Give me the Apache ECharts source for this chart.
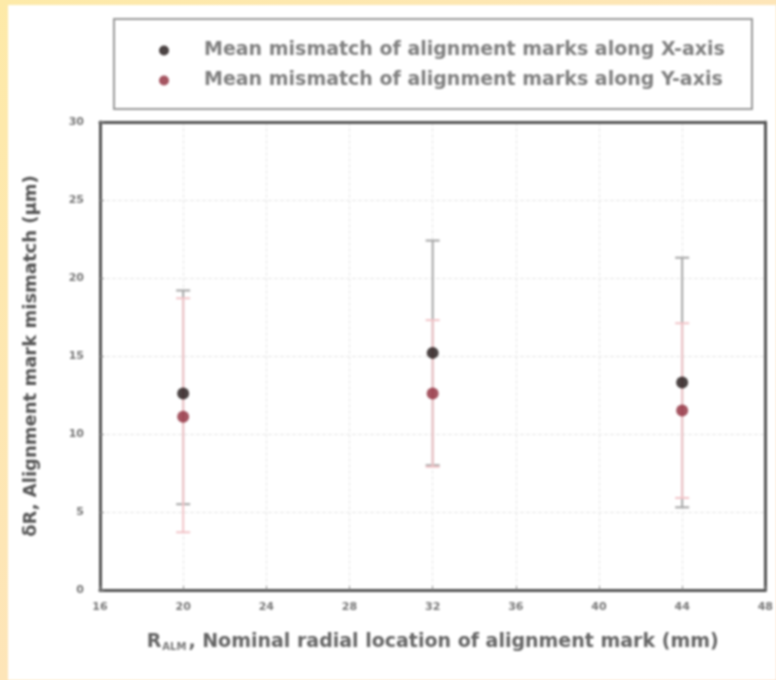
<!DOCTYPE html>
<html lang="en">
<head>
    <meta charset="UTF-8">
    <title>Alignment mark mismatch</title>
    <script src="https://cdn.jsdelivr.net/npm/echarts@6/dist/echarts.min.js"></script>
    <style>
        * { margin: 0; padding: 0; }
        html, body {
            width: 776px;
            height: 680px;
            overflow: hidden;
            background: linear-gradient(to bottom right, #fdeaa8, #fde0c8);
        }
        #box {
            position: absolute;
            left: 8px;
            top: 5px;
            width: 768px;
            height: 675px;
            background: #fff;
            filter: blur(1.2px);
        }
    </style>
</head>
<body>
    <div id="box"></div>
    <script>
        // radial location of the marks (mm)
        var radius = [20, 32, 44];
        // mismatch along X-axis (um)
        var xMean = [12.6, 15.2, 13.3];
        var xLow = [5.5, 8.0, 5.3];
        var xHigh = [19.2, 22.4, 21.3];
        // mismatch along Y-axis (um)
        var yMean = [11.1, 12.6, 11.5];
        var yLow = [3.7, 7.9, 5.9];
        var yHigh = [18.7, 17.3, 17.1];

        var xTicks = [16, 20, 24, 28, 32, 36, 40, 44, 48];
        var yTicks = [0, 5, 10, 15, 20, 25, 30];

        function errBars(low, high, color) {
            return {
                type: 'custom',
                silent: true,
                z: 1,
                data: radius.map(function (r, i) { return [r, low[i], high[i]]; }),
                renderItem: function (params, api) {
                    var lo = api.coord([api.value(0), api.value(1)]);
                    var hi = api.coord([api.value(0), api.value(2)]);
                    var w = 7;
                    var st = { stroke: color, lineWidth: 2 };
                    return {
                        type: 'group',
                        children: [
                            { type: 'line', shape: { x1: lo[0], y1: lo[1], x2: hi[0], y2: hi[1] }, style: st },
                            { type: 'line', shape: { x1: lo[0] - w, y1: lo[1], x2: lo[0] + w, y2: lo[1] }, style: st },
                            { type: 'line', shape: { x1: hi[0] - w, y1: hi[1], x2: hi[0] + w, y2: hi[1] }, style: st }
                        ]
                    };
                }
            };
        }

        var labelStyle = { color: '#777', fontSize: 11, fontWeight: 'bold', fontFamily: 'DejaVu Sans' };
        var frame = { show: true, onZero: false, lineStyle: { color: '#555', width: 3 } };
        var hide = { show: false };

        var option = {
            animation: false,
            grid: { left: 92, right: 10, top: 117, bottom: 90 },
            graphic: [{
                type: 'rect',
                left: 105, top: 13,
                shape: { width: 638, height: 90 },
                style: { fill: '#fff', stroke: '#999', lineWidth: 2 }
            }],
            legend: {
                orient: 'vertical',
                left: 146, top: 31,
                itemGap: 11,
                itemWidth: 10, itemHeight: 10,
                textStyle: { color: '#808080', fontSize: 19, fontWeight: 'bold', fontFamily: 'DejaVu Sans', padding: [0, 0, 0, 30] },
                data: [
                    { name: 'Mean mismatch of alignment marks along X-axis', icon: 'circle' },
                    { name: 'Mean mismatch of alignment marks along Y-axis', icon: 'circle' }
                ]
            },
            xAxis: [{
                type: 'value',
                min: 16, max: 48, interval: 4,
                name: '{r|R}{s|ALM}{t|, Nominal radial location of alignment mark (mm)}',
                nameLocation: 'middle',
                nameGap: 42,
                nameTextStyle: {
                    rich: {
                        r: { fontSize: 19, fontWeight: 'bold', color: '#666', fontFamily: 'DejaVu Sans' },
                        s: { fontSize: 10, fontWeight: 'bold', color: '#777', verticalAlign: 'bottom', padding: [10, 2, 0, 1], fontFamily: 'DejaVu Sans' },
                        t: { fontSize: 19, fontWeight: 'bold', color: '#666', fontFamily: 'DejaVu Sans' }
                    }
                },
                axisLine: frame,
                axisTick: { inside: true, length: 4, lineStyle: { color: '#888' } },
                axisLabel: Object.assign({ margin: 12, formatter: function (v) { return xTicks.indexOf(v) >= 0 ? v : ''; } }, labelStyle),
                splitLine: { lineStyle: { color: '#e6e6e6', type: 'dashed' } }
            }, {
                type: 'value', position: 'top',
                min: 16, max: 48, interval: 4,
                axisLine: frame, axisTick: hide, axisLabel: hide, splitLine: hide
            }],
            yAxis: [{
                type: 'value',
                min: 0, max: 30, interval: 5,
                name: 'δR, Alignment mark mismatch (μm)',
                nameLocation: 'middle',
                nameGap: 60,
                nameTextStyle: { color: '#555', fontSize: 18, fontWeight: 'bold', fontFamily: 'DejaVu Sans' },
                axisLine: frame,
                axisTick: { show: true, inside: true, length: 4, lineStyle: { color: '#888' } },
                axisLabel: Object.assign({ margin: 16, formatter: function (v) { return yTicks.indexOf(v) >= 0 ? v : ''; } }, labelStyle),
                splitLine: { lineStyle: { color: '#e6e6e6', type: 'dashed' } }
            }, {
                type: 'value', position: 'right',
                min: 0, max: 30, interval: 5,
                axisLine: frame, axisTick: hide, axisLabel: hide, splitLine: hide
            }],
            series: [
                errBars(xLow, xHigh, '#a5a5a5'),
                errBars(yLow, yHigh, '#f2c4c8'),
                {
                    name: 'Mean mismatch of alignment marks along X-axis',
                    type: 'scatter',
                    symbol: 'circle',
                    symbolSize: 12,
                    z: 3,
                    itemStyle: { color: '#1e1414' },
                    data: radius.map(function (r, i) { return [r, xMean[i]]; })
                },
                {
                    name: 'Mean mismatch of alignment marks along Y-axis',
                    type: 'scatter',
                    symbol: 'circle',
                    symbolSize: 12,
                    z: 3,
                    itemStyle: { color: '#8e2a3a' },
                    data: radius.map(function (r, i) { return [r, yMean[i]]; })
                }
            ]
        };
        echarts.init(document.getElementById('box')).setOption(option);
    </script>
</body>
</html>
